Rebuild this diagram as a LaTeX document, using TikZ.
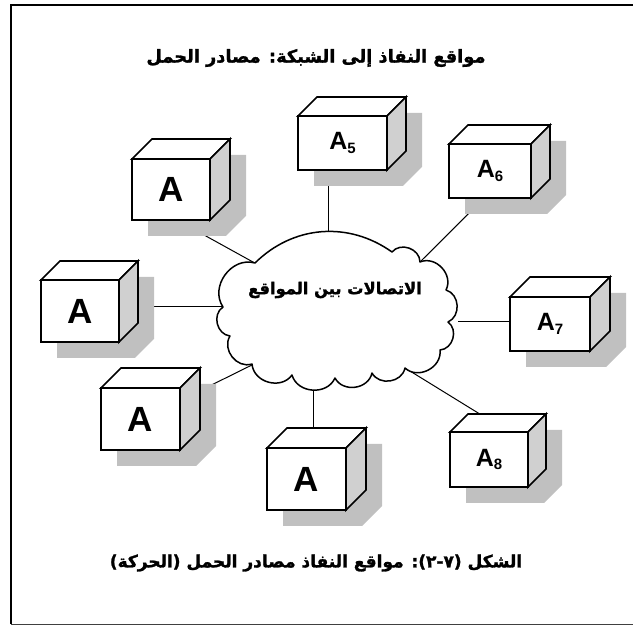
\documentclass[tikz,border=0pt]{standalone}
\usepackage{fontspec}
\setmainfont{Liberation Sans}
\newfontfamily\arabicfont[Script=Arabic, BoldFeatures={FakeBold=1.5}]{DejaVu Sans}
\TeXXeTstate=1
\usetikzlibrary{calc}
\pgfdeclarelayer{lines}
\pgfdeclarelayer{shadow}
\pgfsetlayers{lines,shadow,main}
\definecolor{shadowgray}{RGB}{192,192,192}
\definecolor{sidegray}{RGB}{208,208,208}
\tikzset{
  front/.style={draw, line width=1.7pt, fill=white, inner sep=0pt, outer sep=0pt, font=\bfseries},
  face/.style={line width=1.7pt, line join=miter},
  conn/.style={line width=1pt},
  puff/.style={bend right=70, looseness=1.15},
  bigpuff/.style={bend right=40},
  cloudline/.style={line width=1.5pt, fill=white, line join=round},
  bigA/.style={font=\bfseries\fontsize{35}{35}\selectfont},
  smallA/.style={font=\bfseries\fontsize{25}{25}\selectfont},
  artext/.style={font=\arabicfont\bfseries\fontsize{17}{20}\selectfont, inner sep=0pt},
}
\newcommand\cubebox[8]{% name, cx, cy, w, h, d, label, style
  \node[front, #8, minimum width=#4pt, minimum height=#5pt] (#1) at (#2,#3) {#7};
  \draw[face, fill=white] (#1.north west) -- ++(#6pt,#6pt) -- ++(#4pt,0) -- (#1.north east) -- cycle;
  \draw[face, fill=sidegray] (#1.north east) -- ++(#6pt,#6pt) -- ++(0,-#5pt) -- (#1.south east) -- cycle;
  \begin{pgfonlayer}{shadow}
    \fill[shadowgray] ($(#1.south west)+(16pt,-16pt)$) -- ++(0,#5pt) -- ++(#6pt,#6pt) -- ++(#4pt,0) -- ++(0,-#5pt) -- ++(-#6pt,-#6pt) -- cycle;
  \end{pgfonlayer}
}
\newcommand\subA[1]{A\raisebox{-3.5pt}{\fontsize{15}{15}\selectfont #1}}
\begin{document}
\begin{tikzpicture}[x=1pt,y=1pt]
\useasboundingbox (0,0) rectangle (633,625);
% frame
\coordinate (f1) at (640,620.2);
\coordinate (f2) at (10.8,620.2);
\coordinate (f3) at (10.8,0.7);
\coordinate (f4) at (640,0.7);
\draw[line width=1.7pt] (f1) -- (f2) -- (f3);
\draw[line width=1.4pt, black!75] (f3) -- (f4);

% titles
\node[artext, font=\arabicfont\bfseries\fontsize{17.8}{20}\selectfont] (title) at (316,567) {\beginR مواقع النفاذ إلى الشبكة: مصادر الحمل\endR};
\node[artext] (caption) at (316,62) {\beginR الشكل \beginL(٧-٢)\endL: مواقع النفاذ مصادر الحمل (الحركة)\endR};

% cloud
\draw[cloudline] (255,362) to[puff] (223,318) to[puff] (230,289) to[puff] (252,261)
  to[puff] (292,250) to[puff] (335,247) to[puff] (372,252) to[puff] (405,257)
  to[puff] (440,275) to[puff] (448,303) to[puff] (446,335) to[puff] (420,363)
  to[puff] (392,373) to[bigpuff] (255,362) -- cycle;
\node[artext, font=\arabicfont\bfseries\fontsize{16.3}{20}\selectfont] (cloud) at (335,335) {\beginR الاتصالات بين المواقع\endR};

% boxes
\cubebox{b1}{171}{435.5}{78}{61}{20}{A}{bigA}
\cubebox{b5}{342.5}{482}{89}{54}{19}{\subA{5}}{smallA}
\cubebox{b6}{490}{454}{82}{54}{19}{\subA{6}}{smallA}
\cubebox{b7}{550}{301}{80}{54}{20}{\subA{7}}{smallA}
\cubebox{b8}{489}{165.5}{78}{55}{18}{\subA{8}}{smallA}
\cubebox{b2}{80}{314}{78}{62}{19}{A}{bigA}
\cubebox{b3}{140.5}{206}{79}{62}{20}{A}{bigA}
\cubebox{b4}{306.5}{146}{79}{62}{20}{A}{bigA}

% cloud attachment points
\coordinate (c1) at (262,358);
\coordinate (c2) at (233,318);
\coordinate (c3) at (260,264);
\coordinate (c4) at (313,252);
\coordinate (c5) at (328,380);
\coordinate (c6) at (412,355);
\coordinate (c7) at (458,303);
\coordinate (c8) at (397,262);

\begin{pgfonlayer}{lines}
\draw[conn] (c1) -- (b1.-79);
\draw[conn] (c2) -- (c2 -| b2.east);
\draw[conn] (c3) -- (b3.25);
\draw[conn] (c4) -- (c4 |- b4.north);
\draw[conn] (c5) -- (c5 |- b5.south);
\draw[conn] (c6) -- (b6.-102);
\draw[conn] (c7) -- (c7 -| b7.west);
\draw[conn] (c8) -- (b8.54);
\end{pgfonlayer}
\end{tikzpicture}
\end{document}
